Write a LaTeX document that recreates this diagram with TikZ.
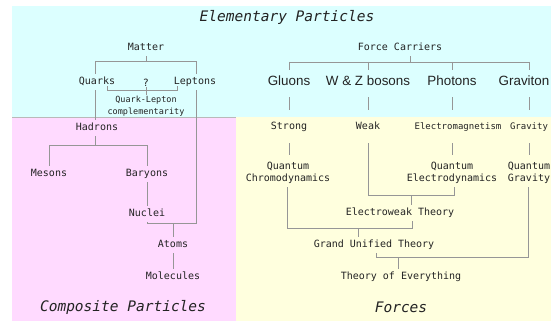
\documentclass[tikz,border=0pt]{standalone}
\usepackage{fontspec}
\setmonofont{DejaVu Sans Mono}
\setsansfont{Liberation Sans}
\definecolor{bgcyan}{RGB}{220,255,255}
\definecolor{bgpink}{RGB}{255,218,255}
\definecolor{bgyellow}{RGB}{255,255,222}
\definecolor{linegray}{RGB}{150,150,150}
\definecolor{edgegray}{RGB}{185,185,185}
\definecolor{txt}{RGB}{35,35,35}
\begin{document}
\begin{tikzpicture}[x=1pt,y=-1pt,
  lbl/.style={font=\ttfamily\fontsize{10}{12}\selectfont, text=txt, text height=7.3pt, text depth=2.4pt, inner sep=3.3pt},
  lblsm/.style={lbl, font=\ttfamily\fontsize{9}{12}\selectfont},
  two/.style={font=\ttfamily\fontsize{10}{12}\selectfont, text=txt, align=center, inner sep=3.3pt},
  small/.style={font=\ttfamily\fontsize{8.5}{12}\selectfont, text=txt, align=center, inner sep=1pt},
  big/.style={font=\sffamily\fontsize{13.4}{16}\selectfont, text=txt, text height=9.6pt, text depth=2.8pt, inner sep=3.3pt},
  ttl/.style={font=\ttfamily\itshape\fontsize{14.5}{17}\selectfont, text=txt, inner sep=0pt, anchor=base},
  conn/.style={draw=linegray, line width=0.8pt}
]
\useasboundingbox (0,0) rectangle (551,321);
% background regions
\fill[white] (0,0) rectangle (551,321);
\fill[bgcyan] (12,6) rectangle (551,117);
\fill[bgpink] (12,117) rectangle (236,321);
\fill[bgyellow] (236,117) rectangle (551,321);
\draw[edgegray, line width=1pt] (12,117) -- (236,117);

% titles
\node[ttl] (tElem) at (287,22) {Elementary Particles};
\node[ttl] (tComp) at (123,311) {Composite Particles};
\node[ttl] (tForces) at (401,312) {Forces};

% matter side
\node[lbl] (matter) at (146,48) {Matter};
\node[lbl] (quarks) at (97,82) {Quarks};
\node[lbl, inner sep=0pt, text depth=0pt] (qmark) at (146,83) {?};
\node[lbl] (leptons) at (195,82) {Leptons};
\node[small] (qlc) at (146,106) {Quark-Lepton\\complementarity};
\node[lbl] (hadrons) at (97,128) {Hadrons};
\node[lbl] (mesons) at (49,174) {Mesons};
\node[lbl] (baryons) at (147,174) {Baryons};
\node[lbl] (nuclei) at (147,214) {Nuclei};
\node[lbl] (atoms) at (173,245) {Atoms};
\node[lbl] (molecules) at (173,277) {Molecules};

% force side
\node[lbl] (fc) at (400,48) {Force Carriers};
\node[big] (gluons) at (289,82.4) {Gluons};
\node[big] (wz) at (368,82.4) {W \& Z bosons};
\node[big] (photons) at (452,82.4) {Photons};
\node[big] (graviton) at (524,82.4) {Graviton};
\node[lbl] (strong) at (289,127) {Strong};
\node[lbl] (weak) at (368,127) {Weak};
\node[lblsm] (em) at (458,127) {Electromagnetism};
\node[lblsm] (gravity) at (529,127) {Gravity};
\node[two] (qcd) at (288,173) {Quantum\\Chromodynamics};
\node[two] (qed) at (452,173) {Quantum\\Electrodynamics};
\node[two] (qg) at (529,173) {Quantum\\Gravity};
\node[lbl] (ewt) at (400,213) {Electroweak Theory};
\node[lbl] (gut) at (374,245) {Grand Unified Theory};
\node[lbl] (toe) at (401,277) {Theory of Everything};

% junction coordinates
\coordinate (mbarL) at (95,61);
\coordinate (mbarR) at (196,61);
\coordinate (brL) at (107,90);
\coordinate (brR) at (177,90);
\coordinate (hbarM) at (95,145);
\coordinate (hbarL) at (49,145);
\coordinate (hbarR) at (147,145);
\coordinate (nbarL) at (147,223);
\coordinate (nbarR) at (196,223);
\coordinate (fbarL) at (289,62);
\coordinate (fbarR) at (529,62);
\coordinate (fbarT) at (410,62);
\coordinate (ewL) at (368,195);
\coordinate (ewR) at (454,195);
\coordinate (ewT) at (411,195);
\coordinate (gL) at (287,228);
\coordinate (gR) at (412,228);
\coordinate (gT) at (358,228);
\coordinate (tL) at (376,257);
\coordinate (tR) at (528,257);
\coordinate (tT) at (398,257);

% matter connectors
\draw[conn] (matter.south) -- (matter.south |- mbarL);
\draw[conn] (quarks.north -| mbarL) -- (mbarL) -- (mbarR) -- (leptons.north -| mbarR);
\draw[conn] (quarks.south -| mbarL) -- (hadrons.north -| mbarL);
\draw[conn] (brL) ++(0,-4) -- (brL) -- (brR) -- ++(0,-4);
\draw[conn] (qmark.south) -- (qlc.north);
\draw[conn] (leptons.south -| mbarR) -- (nbarR) -- (nbarL) -- (nuclei.south);
\draw[conn] (atoms.north) -- (atoms.north |- nbarL);
\draw[conn] (atoms.south) -- (molecules.north);
\draw[conn] (hadrons.south -| hbarM) -- (hbarM);
\draw[conn] (mesons.north) -- (mesons.north |- hbarL) -- (hbarR) -- (baryons.north);
\draw[conn] (baryons.south) -- (nuclei.north);

% force connectors
\draw[conn] (fc.south -| fbarT) -- (fbarT);
\draw[conn] (fbarL) -- (fbarR);
\draw[conn, shorten >=3pt] (gluons.north |- fbarL) -- (gluons.north);
\draw[conn, shorten >=3pt] (wz.north |- fbarL) -- (wz.north);
\draw[conn, shorten >=3pt] (photons.north |- fbarL) -- (photons.north);
\draw[conn, shorten >=3pt] (fbarR) -- (fbarR |- graviton.north);
\draw[conn, shorten <=5pt, shorten >=9pt] (gluons.south) -- (strong.north);
\draw[conn, shorten <=5pt, shorten >=9pt] (wz.south) -- (weak.north);
\draw[conn, shorten <=5pt, shorten >=9pt] (photons.south) -- (photons.south |- em.north);
\draw[conn, shorten <=5pt, shorten >=9pt] (gravity.north |- graviton.south) -- (gravity.north);
\draw[conn, shorten <=8pt, shorten >=4pt] (strong.south) -- (strong.south |- qcd.north);
\draw[conn, shorten <=8pt, shorten >=4pt] (em.south -| qed.north) -- (qed.north);
\draw[conn, shorten <=8pt, shorten >=4pt] (gravity.south) -- (qg.north);
\draw[conn, shorten <=8pt] (weak.south) -- (ewL) -- (ewR) -- (ewR |- qed.south);
\draw[conn] (ewT) -- (ewT |- ewt.north);
\draw[conn] (qcd.south -| gL) -- (gL) -- (gR) -- (gR |- ewt.south);
\draw[conn] (gT) -- (gT |- gut.north);
\draw[conn] (qg.south -| tR) -- (tR) -- (tL) -- (tL |- gut.south);
\draw[conn] (tT) -- (tT |- toe.north);
\end{tikzpicture}
\end{document}
